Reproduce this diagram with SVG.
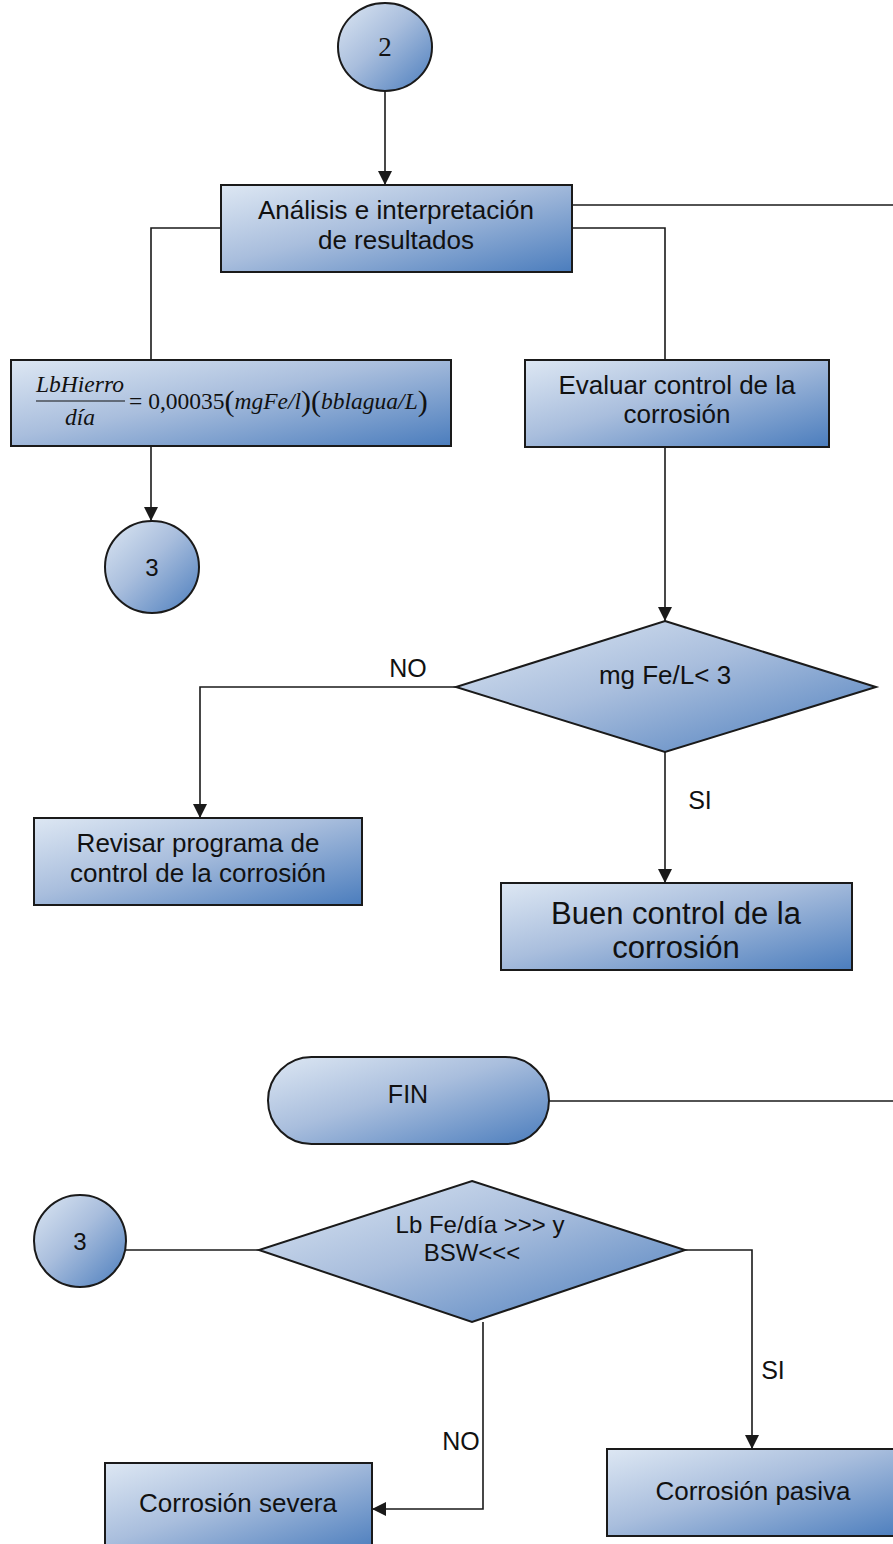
<svg xmlns="http://www.w3.org/2000/svg" width="893" height="1544" viewBox="0 0 893 1544">
  <defs>
    <linearGradient id="fillBlue" x1="0" y1="0" x2="1" y2="1">
      <stop offset="0" stop-color="#dde7f3"/>
      <stop offset="0.45" stop-color="#a9bedd"/>
      <stop offset="1" stop-color="#4b7dbd"/>
    </linearGradient>
    <marker id="arrow" markerUnits="userSpaceOnUse" markerWidth="14" markerHeight="14" viewBox="0 0 14 14" refX="14" refY="7" orient="auto">
      <path d="M0,0 L14,7 L0,14 z" fill="#1a1a1a"/>
    </marker>
    <style>
      .shape { fill: url(#fillBlue); stroke: #1a1a1a; stroke-width: 2; }
      .link { fill: none; stroke: #1a1a1a; stroke-width: 1.6; }
      .lbl { font-family: "Liberation Sans", Arial, sans-serif; font-size: 26px; fill: #111; text-anchor: middle; }
      .big { font-size: 31px; }
      .mid { font-size: 25px; }
      .cond { font-size: 24px; }
      .math { font-family: "Liberation Serif", "Times New Roman", serif; font-size: 23.5px; fill: #111; }
      .it { font-style: italic; }
    </style>
  </defs>

  <!-- connectors -->
  <g id="connectors">
    <path class="link" d="M385,91 V185" marker-end="url(#arrow)"/>
    <path class="link" d="M572,205 H893"/>
    <path class="link" d="M221,228 H151 V360"/>
    <path class="link" d="M572,228 H665 V360"/>
    <path class="link" d="M151,446 V521" marker-end="url(#arrow)"/>
    <path class="link" d="M665,447 V621" marker-end="url(#arrow)"/>
    <path class="link" d="M456,687 H200 V818" marker-end="url(#arrow)"/>
    <path class="link" d="M665,752 V883" marker-end="url(#arrow)"/>
    <path class="link" d="M549,1101 H893"/>
    <path class="link" d="M126,1250 H259"/>
    <path class="link" d="M685,1250 H752 V1449" marker-end="url(#arrow)"/>
    <path class="link" d="M483,1322 V1509 H372" marker-end="url(#arrow)"/>
    <text class="lbl mid" x="408" y="677">NO</text>
    <text class="lbl mid" x="700" y="809">SI</text>
    <text class="lbl mid" x="773" y="1379">SI</text>
    <text class="lbl mid" x="461" y="1450">NO</text>
  </g>

  <g id="conn2">
    <ellipse class="shape" cx="385" cy="47" rx="47" ry="44"/>
    <text x="385" y="56" font-family="Liberation Serif, serif" font-size="27" text-anchor="middle" fill="#111">2</text>
  </g>

  <g id="analisis">
    <rect class="shape" x="221" y="185" width="351" height="87"/>
    <text class="lbl" x="396" y="219">Análisis e interpretación</text>
    <text class="lbl" x="396" y="249">de resultados</text>
  </g>

  <g id="formula">
    <rect class="shape" x="11" y="360" width="440" height="86"/>
    <text class="math it" x="80" y="392" text-anchor="middle" font-size="24.5">LbHierro</text>
    <line x1="36" y1="401" x2="125" y2="401" stroke="#111" stroke-width="1.2"/>
    <text class="math it" x="80" y="425" text-anchor="middle" font-size="24.5">día</text>
    <text class="math" x="129" y="409">= 0,00035<tspan font-size="30" dy="2">(</tspan><tspan class="it" dy="-2">mgFe/l</tspan><tspan font-size="30" dy="2">)(</tspan><tspan class="it" dy="-2">bblagua/L</tspan><tspan font-size="30" dy="2">)</tspan></text>
  </g>

  <g id="conn3a">
    <ellipse class="shape" cx="152" cy="567" rx="47" ry="46"/>
    <text class="lbl cond" x="152" y="576">3</text>
  </g>

  <g id="evaluar">
    <rect class="shape" x="525" y="360" width="304" height="87"/>
    <text class="lbl" x="677" y="394">Evaluar control de la</text>
    <text class="lbl" x="677" y="423">corrosión</text>
  </g>

  <g id="decision1">
    <polygon class="shape" points="665,621 876,687 665,752 456,687"/>
    <text class="lbl" x="665" y="684">mg Fe/L&lt; 3</text>
  </g>

  <g id="revisar">
    <rect class="shape" x="34" y="818" width="328" height="87"/>
    <text class="lbl" x="198" y="852">Revisar programa de</text>
    <text class="lbl" x="198" y="882">control de la corrosión</text>
  </g>

  <g id="buen">
    <rect class="shape" x="501" y="883" width="351" height="87"/>
    <text class="lbl big" x="676" y="924">Buen control de la</text>
    <text class="lbl big" x="676" y="958">corrosión</text>
  </g>

  <g id="fin">
    <rect class="shape" x="268" y="1057" width="281" height="87" rx="43.5" ry="43.5"/>
    <text class="lbl mid" x="408" y="1103">FIN</text>
  </g>

  <g id="conn3b">
    <ellipse class="shape" cx="80" cy="1241" rx="46" ry="46"/>
    <text class="lbl cond" x="80" y="1250">3</text>
  </g>

  <g id="decision2">
    <polygon class="shape" points="472,1181 685,1250 472,1322 259,1250"/>
    <text class="lbl cond" x="480" y="1233">Lb Fe/día &gt;&gt;&gt; y</text>
    <text class="lbl cond" x="472" y="1261">BSW&lt;&lt;&lt;</text>
  </g>

  <g id="severa">
    <rect class="shape" x="105" y="1463" width="267" height="90"/>
    <text class="lbl" x="238" y="1512">Corrosión severa</text>
  </g>

  <g id="pasiva">
    <rect class="shape" x="607" y="1449" width="300" height="87"/>
    <text class="lbl" x="753" y="1500">Corrosión pasiva</text>
  </g>
</svg>
